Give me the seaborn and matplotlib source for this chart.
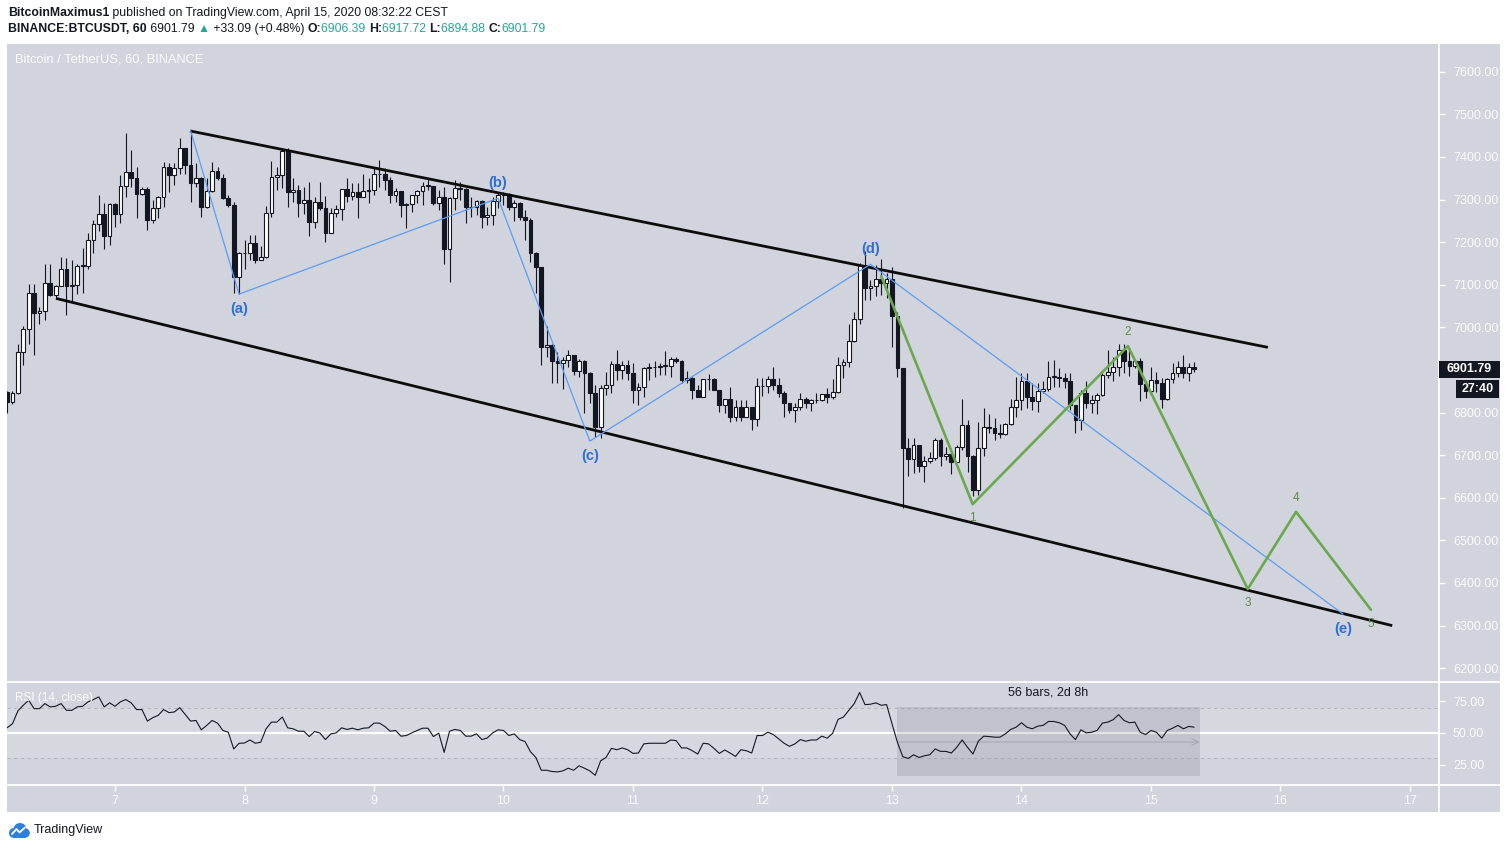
import numpy as np
import pandas as pd
import matplotlib
matplotlib.use("Agg")
import matplotlib.pyplot as plt
from matplotlib.patches import Rectangle, Circle
from matplotlib.lines import Line2D
import seaborn as sns

# ── 1. DATA (hourly bars from Apr 6 04:00) ──
start_time = "2020-04-06 04:00"
first_open = 6849.0

closes = [
    6825, 6845, 6941, 6995, 7080, 7033, 7039, 7103, 7076, 7098,
    7136, 7098, 7100, 7144, 7145, 7206, 7242, 7267, 7215, 7289,
    7267, 7332, 7365, 7350, 7312, 7324, 7253, 7279, 7307, 7377,
    7357, 7373, 7422, 7381, 7338, 7350, 7283, 7320, 7368, 7350,
    7303, 7287, 7119, 7174, 7174, 7197, 7158, 7166, 7268, 7354,
    7358, 7414, 7318, 7322, 7291, 7300, 7248, 7295, 7279, 7222,
    7269, 7277, 7324, 7308, 7318, 7307, 7320, 7322, 7359, 7361,
    7346, 7311, 7320, 7286, 7289, 7311, 7320, 7332, 7332, 7291,
    7307, 7185, 7303, 7328, 7324, 7283, 7282, 7297, 7260, 7264,
    7297, 7311, 7313, 7283, 7293, 7260, 7252, 7174, 7141, 6955,
    6959, 6922, 6917, 6923, 6935, 6898, 6922, 6894, 6847, 6767,
    6857, 6865, 6913, 6901, 6912, 6894, 6854, 6861, 6904, 6906,
    6908, 6909, 6909, 6925, 6922, 6876, 6880, 6854, 6837, 6878,
    6878, 6853, 6818, 6831, 6789, 6812, 6790, 6812, 6786, 6862,
    6862, 6878, 6865, 6847, 6822, 6806, 6814, 6833, 6822, 6829,
    6830, 6843, 6837, 6848, 6912, 6918, 6968, 7019, 7146, 7092,
    7097, 7113, 7103, 7113, 7027, 6904, 6718, 6690, 6724, 6675,
    6687, 6694, 6736, 6698, 6702, 6685, 6720, 6771, 6697, 6618,
    6716, 6765, 6763, 6753, 6750, 6772, 6812, 6830, 6873, 6837,
    6828, 6851, 6855, 6884, 6884, 6882, 6873, 6818, 6783, 6847,
    6823, 6830, 6841, 6888, 6896, 6908, 6948, 6920, 6909, 6920,
    6867, 6851, 6876, 6869, 6833, 6878, 6894, 6906, 6893, 6906,
    6901.79,
]
highs = [
    6850, 6850, 6962, 7002, 7102, 7102, 7048, 7148, 7148, 7100,
    7166, 7162, 7158, 7148, 7187, 7221, 7253, 7310, 7291, 7291,
    7292, 7357, 7455, 7416, 7377, 7330, 7330, 7299, 7308, 7389,
    7385, 7385, 7444, 7422, 7461, 7385, 7354, 7350, 7389, 7377,
    7361, 7310, 7295, 7178, 7205, 7217, 7217, 7191, 7285, 7390,
    7377, 7418, 7420, 7350, 7334, 7330, 7342, 7307, 7342, 7308,
    7279, 7287, 7324, 7350, 7338, 7338, 7361, 7350, 7377, 7393,
    7373, 7354, 7326, 7320, 7291, 7311, 7322, 7342, 7350, 7332,
    7322, 7330, 7305, 7346, 7342, 7326, 7307, 7299, 7299, 7283,
    7307, 7318, 7318, 7316, 7299, 7295, 7275, 7256, 7178, 7142,
    7002, 6962, 6941, 6931, 6948, 6935, 6925, 6923, 6896, 6865,
    6865, 6896, 6921, 6948, 6921, 6923, 6917, 6869, 6908, 6916,
    6921, 6917, 6944, 6931, 6931, 6923, 6898, 6884, 6865, 6878,
    6890, 6880, 6854, 6833, 6861, 6829, 6829, 6829, 6812, 6880,
    6880, 6886, 6908, 6880, 6851, 6823, 6823, 6845, 6837, 6833,
    6847, 6844, 6857, 6878, 6931, 6925, 7009, 7037, 7150, 7180,
    7111, 7146, 7160, 7127, 7141, 7037, 6904, 6740, 6740, 6724,
    6697, 6708, 6740, 6740, 6720, 6708, 6724, 6833, 6783, 6700,
    6779, 6810, 6797, 6787, 6773, 6775, 6833, 6884, 6894, 6892,
    6869, 6870, 6873, 6920, 6923, 6904, 6892, 6894, 6818, 6853,
    6873, 6841, 6847, 6892, 6947, 6931, 6961, 6961, 6955, 6925,
    6927, 6873, 6908, 6896, 6880, 6880, 6916, 6920, 6935, 6917,
    6917.72,
]
lows = [
    6798, 6820, 6843, 6912, 6962, 6936, 7009, 7017, 7074, 7068,
    7096, 7030, 7060, 7078, 7080, 7136, 7175, 7225, 7185, 7193,
    7235, 7244, 7305, 7330, 7256, 7310, 7228, 7244, 7256, 7283,
    7318, 7334, 7361, 7361, 7295, 7330, 7260, 7279, 7318, 7346,
    7302, 7282, 7080, 7078, 7138, 7158, 7150, 7158, 7162, 7260,
    7322, 7326, 7282, 7295, 7260, 7266, 7214, 7232, 7275, 7201,
    7221, 7258, 7253, 7295, 7299, 7256, 7307, 7291, 7311, 7330,
    7322, 7291, 7295, 7258, 7232, 7271, 7291, 7287, 7322, 7288,
    7275, 7149, 7107, 7275, 7299, 7244, 7260, 7264, 7232, 7240,
    7240, 7279, 7287, 7275, 7250, 7252, 7205, 7154, 7080, 6912,
    6931, 6870, 6870, 6855, 6908, 6888, 6884, 6798, 6822, 6743,
    6740, 6841, 6845, 6876, 6878, 6876, 6823, 6818, 6837, 6876,
    6884, 6888, 6888, 6884, 6916, 6869, 6869, 6831, 6836, 6836,
    6854, 6853, 6802, 6800, 6779, 6781, 6781, 6790, 6759, 6769,
    6839, 6845, 6853, 6837, 6789, 6800, 6779, 6806, 6810, 6804,
    6822, 6828, 6822, 6833, 6845, 6880, 6908, 6966, 7009, 7064,
    7064, 7074, 7076, 7070, 6955, 6884, 6575, 6650, 6657, 6661,
    6638, 6681, 6689, 6675, 6689, 6655, 6685, 6712, 6661, 6604,
    6607, 6697, 6751, 6736, 6740, 6747, 6771, 6790, 6806, 6810,
    6806, 6802, 6847, 6851, 6861, 6861, 6857, 6806, 6753, 6759,
    6810, 6800, 6797, 6839, 6880, 6873, 6886, 6892, 6886, 6904,
    6826, 6834, 6841, 6849, 6810, 6830, 6869, 6884, 6880, 6875,
    6894.88,
]
rsi_values = [
    54.1, 57.3, 67.4, 71.9, 75.9, 69.2, 69.2, 73.2, 70.6, 71.1,
    73.2, 67.9, 67.9, 70.6, 71.1, 74.6, 76.4, 78.5, 70.6, 73.8,
    71.1, 74.6, 76.4, 73.8, 68.5, 68.5, 59.4, 62.1, 63.9, 68.5,
    66.1, 66.6, 70.0, 64.7, 59.4, 59.9, 52.5, 56.0, 59.9, 57.8,
    52.0, 50.6, 37.4, 41.9, 42.1, 44.5, 41.9, 42.7, 53.3, 58.6,
    58.6, 62.6, 54.1, 53.3, 51.4, 51.4, 47.2, 51.2, 49.9, 44.8,
    49.3, 50.1, 54.1, 52.8, 53.8, 52.5, 53.8, 54.1, 57.8, 57.8,
    55.2, 51.4, 52.0, 47.5, 48.0, 50.1, 52.0, 53.8, 53.8, 47.2,
    49.9, 34.7, 51.4, 52.8, 52.0, 47.5, 47.5, 49.3, 44.8, 46.1,
    50.1, 52.5, 52.0, 48.0, 49.3, 44.8, 43.2, 35.2, 30.7, 20.6,
    20.6, 19.6, 19.3, 20.1, 22.2, 20.6, 24.1, 22.2, 20.1, 16.6,
    28.0, 30.7, 37.9, 36.8, 38.2, 36.8, 33.9, 34.2, 41.4, 41.9,
    41.9, 41.9, 41.9, 44.5, 44.0, 38.2, 38.2, 36.0, 33.4, 41.9,
    41.4, 37.9, 33.9, 36.6, 34.2, 31.5, 36.8, 36.0, 34.2, 48.0,
    48.0, 50.6, 48.8, 45.3, 41.9, 39.5, 41.4, 44.8, 43.5, 44.5,
    44.5, 47.5, 45.9, 49.8, 60.7, 62.6, 67.9, 73.2, 82.0, 72.4,
    72.7, 73.8, 71.9, 72.4, 57.3, 42.7, 31.3, 29.9, 32.8, 30.7,
    32.0, 32.8, 37.4, 35.5, 35.5, 34.2, 38.7, 44.5, 38.7, 33.4,
    43.5, 47.5, 47.2, 46.7, 46.7, 49.3, 52.8, 54.6, 58.1, 54.6,
    53.3, 55.4, 56.0, 59.1, 59.1, 58.1, 56.0, 49.3, 44.8, 52.5,
    50.1, 50.6, 52.0, 57.8, 58.6, 60.5, 64.5, 59.9, 58.1, 58.6,
    50.6, 48.8, 52.0, 50.6, 45.9, 52.0, 53.8, 56.0, 53.3, 55.2,
    54.6,
]

# drawings (x in day-of-April, y in USDT)
channel_upper_x = [7.579, 15.903]
channel_upper_y = [7461, 6953]
channel_lower_x = [6.544, 16.863]
channel_lower_y = [7068, 6300]

wave_abcde_x = [7.583, 7.958, 9.958, 10.667, 12.833, 16.483]
wave_abcde_y = [7462, 7078, 7303, 6733, 7148, 6327]
wave_abcde_labels = ["", "(a)", "(b)", "(c)", "(d)", "(e)"]

impulse_x = [12.917, 13.623, 14.822, 15.747, 16.120, 16.699]
impulse_y = [7120, 6585, 6956, 6386, 6567, 6337]
impulse_labels = ["", "1", "2", "3", "4", "5"]

measure_bars = (165, 221)   # bar index range of the measure box
# 6900 sits under the last-price tag, so it is not shown
price_ticks = [p for p in range(6200, 7700, 100) if p != 6900]
rsi_ticks = [25, 50, 75]
day_ticks = list(range(7, 18))

last_price = 6901.79
countdown = "27:40"

# ── 2. STYLE ──
sns.set_theme(style="white")
plt.rcParams["font.family"] = ["Liberation Sans", "DejaVu Sans"]

W, H = 1507, 849
BG = "#d1d4dc"
INK = "#131722"
AXTXT = "#fbfbfd"
TEAL = "#26a69a"


def fx(px):
    return px / W


def fy(py):
    return 1 - py / H


fig = plt.figure(figsize=(W / 100, H / 100), dpi=100)
fig.patch.set_facecolor("white")
fig.add_artist(Rectangle((fx(7), fy(812)), (1500 - 7) / W, (812 - 44) / H,
                         transform=fig.transFigure, color=BG, zorder=-10, lw=0))

ax = fig.add_axes([fx(7), fy(681), (1439 - 7) / W, (681 - 44) / H])
ax_r = fig.add_axes([fx(7), fy(785), (1439 - 7) / W, (785 - 682) / H])
for a in (ax, ax_r):
    a.set_facecolor("none")
    for s in a.spines.values():
        s.set_visible(False)
    a.set_xlim(6.166, 17.224)

ax.set_ylim(6170, 7665)
ax_r.set_ylim(8.96, 90.25)

# ── 3. CANDLES ──
times = pd.date_range(start_time, periods=len(closes), freq="h")
xd = np.asarray(times.day + times.hour / 24.0, dtype=float)
c = np.array(closes, dtype=float)
o = np.r_[first_open, c[:-1]]
hi = np.maximum(np.array(highs, dtype=float), np.maximum(o, c))
lo = np.minimum(np.array(lows, dtype=float), np.minimum(o, c))
up = c >= o
body_lo = np.minimum(o, c)
body_h = np.maximum(np.abs(c - o), 1.5)
bw = 0.7 / 24

ax.vlines(xd, lo, hi, color=INK, lw=0.8, zorder=3)
ax.bar(xd[up], body_h[up], bw, bottom=body_lo[up], color="white",
       edgecolor=INK, linewidth=0.8, zorder=4)
ax.bar(xd[~up], body_h[~up], bw, bottom=body_lo[~up], color=INK,
       edgecolor=INK, linewidth=0.8, zorder=4)

# ── 4. DRAWINGS ──
ax.plot(channel_upper_x, channel_upper_y, color="#0c0c0c", lw=2.0, zorder=5,
        solid_capstyle="butt")
ax.plot(channel_lower_x, channel_lower_y, color="#0c0c0c", lw=2.0, zorder=5,
        solid_capstyle="butt")
ax.plot(wave_abcde_x, wave_abcde_y, color="#5b9cf6", lw=0.9, zorder=6)
ax.plot(impulse_x, impulse_y, color="#6aa84f", lw=1.9, zorder=7)

abc_side = [0, -1, 1, -1, 1, -1]
for xv, yv, lab, sd in zip(wave_abcde_x, wave_abcde_y, wave_abcde_labels, abc_side):
    if lab:
        ax.annotate(lab, (xv, yv), xytext=(0, 11 * sd), textcoords="offset points",
                    ha="center", va="center", color="#2f6fd6", fontsize=10.5,
                    fontweight="bold", zorder=8)
imp_side = [0, -1, 1, -1, 1, -1]
for xv, yv, lab, sd in zip(impulse_x, impulse_y, impulse_labels, imp_side):
    if lab:
        ax.annotate(lab, (xv, yv), xytext=(0, 10 * sd), textcoords="offset points",
                    ha="center", va="center", color="#5e8c45", fontsize=8.5, zorder=8)

# ── 5. RSI PANE ──
ax_r.axhspan(30, 70, color="white", alpha=0.1, lw=0, zorder=0)
ax_r.axhline(70, color="#b4b7bf", lw=0.8, ls=(0, (3, 3)), zorder=1)
ax_r.axhline(30, color="#b4b7bf", lw=0.8, ls=(0, (3, 3)), zorder=1)
ax_r.axhline(50, color="white", lw=1.6, zorder=1)

m0 = xd[measure_bars[0]]
m1 = xd[0] + measure_bars[1] / 24.0
ax_r.add_patch(Rectangle((m0, 16.3), m1 - m0, 70.5 - 16.3, color="#787b86",
                         alpha=0.22, lw=0, zorder=2))
ax_r.annotate("", xy=(m1, 42.9), xytext=(m0, 42.9),
              arrowprops=dict(arrowstyle="->", color="#a3a6ae", lw=0.7,
                              shrinkA=0, shrinkB=0), zorder=3)
ax_r.text((m0 + m1) / 2, 81.6, "56 bars, 2d 8h", ha="center", va="center",
          color=INK, fontsize=9)

sns.lineplot(x=xd, y=np.array(rsi_values), ax=ax_r, color=INK, linewidth=0.8,
             zorder=4)
ax_r.set_xlabel("")
ax_r.set_ylabel("")

# ── 6. AXES ──
ax.set_xticks([])
ax.yaxis.tick_right()
ax.set_yticks(price_ticks)
ax.set_yticklabels([f"{p:.2f}" for p in price_ticks])
ax.tick_params(axis="y", right=True, length=4, width=1, color="white",
               pad=6, labelsize=9, labelcolor=AXTXT)

ax_r.yaxis.tick_right()
ax_r.set_yticks(rsi_ticks)
ax_r.set_yticklabels([f"{v:.2f}" for v in rsi_ticks])
ax_r.tick_params(axis="y", right=True, length=4, width=1, color="white",
                 pad=6, labelsize=9, labelcolor=AXTXT)
ax_r.set_xticks(day_ticks)
ax_r.set_xticklabels([str(d) for d in day_ticks])
ax_r.tick_params(axis="x", bottom=True, length=4, width=1, color="white",
                 pad=3, labelsize=9, labelcolor=AXTXT)

# separators
for y in (681.5, 785):
    fig.add_artist(Line2D([fx(7), fx(1500)], [fy(y), fy(y)], color="white",
                          lw=1.3, transform=fig.transFigure, zorder=2))
fig.add_artist(Line2D([fx(1439), fx(1439)], [fy(44), fy(812)], color="white",
                      lw=1.3, transform=fig.transFigure, zorder=2))

# last price + countdown tags
yp = 71.7 + (7600 - last_price) * 0.4261
fig.add_artist(Rectangle((fx(1439), fy(yp + 8.5)), (1500 - 1439) / W, 17 / H,
                         transform=fig.transFigure, color=INK, lw=0, zorder=5))
fig.text(fx(1469), fy(yp), f"{last_price:.2f}", color="white", fontsize=9,
         fontweight="bold", ha="center", va="center", zorder=6)
fig.add_artist(Rectangle((fx(1456), fy(398)), (1499 - 1456) / W, 18 / H,
                         transform=fig.transFigure, color=INK, lw=0, zorder=5))
fig.text(fx(1477.5), fy(389), countdown, color="white", fontsize=9,
         fontweight="bold", ha="center", va="center", zorder=6)

# in-chart titles
fig.text(fx(15), fy(60), "Bitcoin / TetherUS, 60, BINANCE", color=AXTXT,
         fontsize=9.3, ha="left", va="center")
fig.text(fx(15), fy(698), "RSI (14, close)", color=AXTXT, fontsize=8.5,
         ha="left", va="center", zorder=6)

# ── 7. HEADER ──
renderer = fig.canvas.get_renderer()


def draw_runs(x_px, y_px, runs, size):
    x = x_px
    for s, col, wt in runs:
        t = fig.text(fx(x), fy(y_px), s, color=col, fontsize=size,
                     fontweight=wt, ha="left", va="center")
        x += t.get_window_extent(renderer=renderer).width


draw_runs(8, 13, [("BitcoinMaximus1", INK, "bold"),
                  (" published on TradingView.com, April 15, 2020 08:32:22 CEST", INK, "normal")],
          8.8)
draw_runs(8, 29, [("BINANCE:BTCUSDT, 60", INK, "bold"),
                  (" 6901.79 ", INK, "normal"),
                  ("\u25b2", TEAL, "normal"),
                  (" +33.09 (+0.48%) ", INK, "normal"),
                  ("O:", INK, "bold"), ("6906.39 ", TEAL, "normal"),
                  ("H:", INK, "bold"), ("6917.72 ", TEAL, "normal"),
                  ("L:", INK, "bold"), ("6894.88 ", TEAL, "normal"),
                  ("C:", INK, "bold"), ("6901.79", TEAL, "normal")],
          8.8)

# ── 8. FOOTER LOGO ──
ax_logo = fig.add_axes([fx(8), fy(839), 22 / W, 17 / H])
ax_logo.set_xlim(0, 22)
ax_logo.set_ylim(0, 17)
ax_logo.axis("off")
for cx, cy, r in [(6, 6, 5), (12, 9.5, 6.5), (17, 6, 4.8)]:
    ax_logo.add_patch(Circle((cx, cy), r, color="#2e7fd9", lw=0))
ax_logo.add_patch(Rectangle((6, 1), 11, 5, color="#2e7fd9", lw=0))
ax_logo.plot([4, 8.5, 11.5, 17], [5, 10, 6.5, 11.5], color="white", lw=1.3)
fig.text(fx(34), fy(830), "TradingView", color=INK, fontsize=9,
         ha="left", va="center")

fig.savefig("out.png", dpi=100, facecolor="white")
